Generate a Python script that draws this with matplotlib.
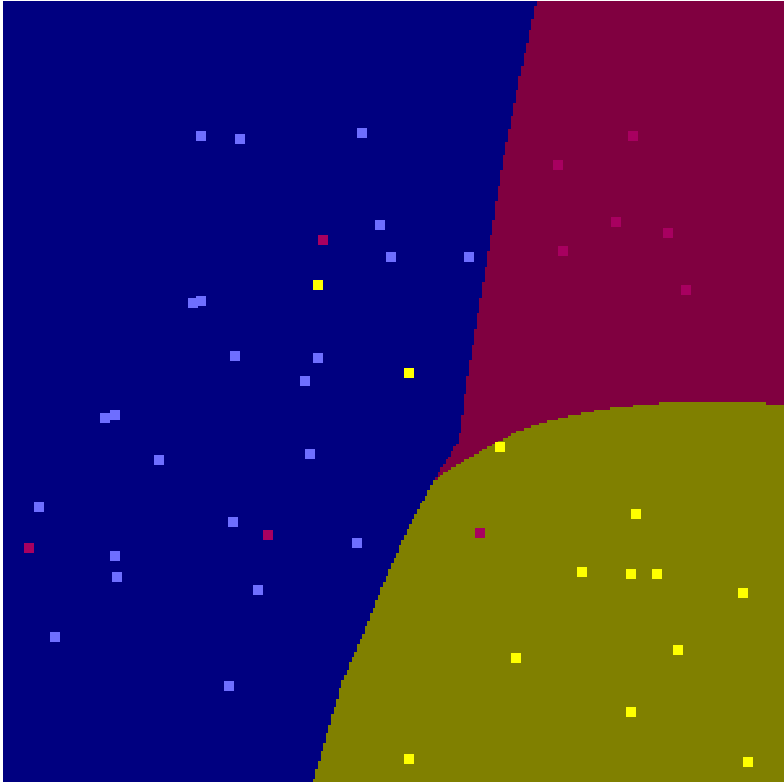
import numpy as np
import matplotlib
matplotlib.use("Agg")
from matplotlib import pyplot as plt
from matplotlib.colors import ListedColormap

# sample points (picture units, y grows downward)
blue_x = [201, 240, 362, 380, 391, 469, 193, 201, 235, 318, 305, 105, 115,
          159, 310, 39, 233, 357, 115, 117, 258, 55, 229]
blue_y = [136, 139, 133, 225, 257, 257, 303, 301, 356, 358, 381, 418, 415,
          460, 454, 507, 522, 543, 556, 577, 590, 637, 686]

red_x = [633, 558, 616, 668, 563, 686, 323, 268, 29, 480]
red_y = [136, 165, 222, 233, 251, 290, 240, 535, 548, 533]

yellow_x = [318, 409, 500, 636, 582, 631, 657, 743, 516, 678, 631, 409, 748]
yellow_y = [285, 373, 447, 514, 572, 574, 574, 593, 658, 650, 712, 759, 762]

# decision boundaries
left_y = [0, 80, 160, 230, 380, 440, 482, 530, 580, 630, 680, 730, 782]
left_x = [537, 519, 503, 492, 467, 459, 433, 407, 385, 365, 343, 328, 313]
split_x = [432, 453, 487, 520, 553, 587, 620, 660, 763, 784]
split_y = [482, 467, 448, 430, 420, 412, 407, 403, 403, 405]

n = 300
xe = np.linspace(3, 784, n + 1)
ye = np.linspace(1, 782, n + 1)
xc = (xe[:-1] + xe[1:]) / 2
yc = (ye[:-1] + ye[1:]) / 2
X, Y = np.meshgrid(xc, yc)

left = np.interp(Y, left_y, left_x)
split = np.interp(X, split_x, split_y)
Z = np.where(X < left, 0, np.where(Y < split, 1, 2))

fig = plt.figure(figsize=(7.84, 7.82), dpi=100)
ax = fig.add_axes([3 / 784, 0, 781 / 784, 781 / 782])
ax.pcolormesh(xe, ye, Z, cmap=ListedColormap(["#000080", "#800040", "#808000"]),
              vmin=-0.5, vmax=2.5)

ax.scatter(blue_x, blue_y, marker='s', s=52, c='#6e6eff', linewidths=0)
ax.scatter(red_x, red_y, marker='s', s=52, c='#a80060', linewidths=0)
ax.scatter(yellow_x, yellow_y, marker='s', s=52, c='#ffff00', linewidths=0)

ax.set_xlim(3, 784)
ax.set_ylim(782, 1)
ax.axis('off')

plt.savefig("out.png", dpi=100)
